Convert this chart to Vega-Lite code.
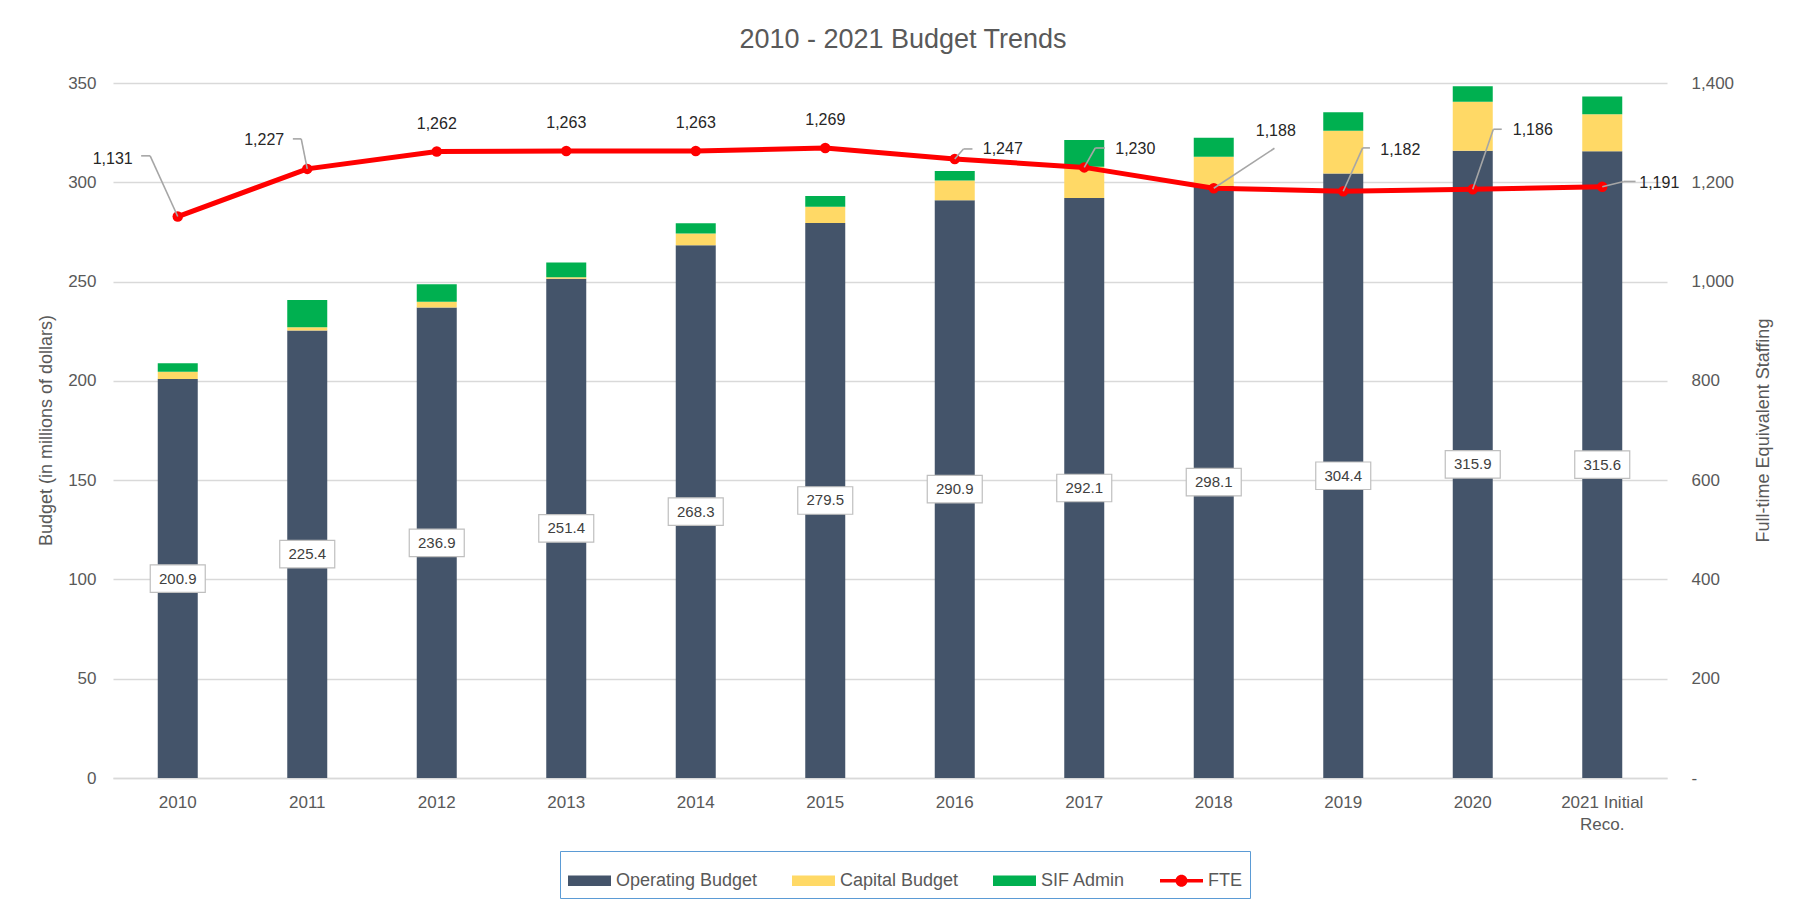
{
  "$schema": "https://vega.github.io/schema/vega-lite/v6.json",
  "width": 1554,
  "height": 695,
  "autosize": "none",
  "padding": {"left": 113, "top": 83, "right": 136, "bottom": 122},
  "background": "white",
  "title": {"text": "2010 - 2021 Budget Trends", "fontSize": 27, "font": "Liberation Sans", "fontWeight": "normal", "color": "#595959", "anchor": "middle", "frame": "group", "dx": 13, "baseline": "alphabetic", "offset": -1},
  "config": {
    "view": {"stroke": null},
    "font": "Liberation Sans",
    "axis": {"labelFont": "Liberation Sans", "titleFont": "Liberation Sans", "labelColor": "#595959", "titleColor": "#595959", "labelFontSize": 17, "titleFontSize": 18, "titleFontWeight": "normal", "gridColor": "#d9d9d9", "gridWidth": 1.5, "ticks": false, "domain": false}
  },
  "datasets": {
    "budget": [
      {"year": "2010", "series": "Operating Budget", "value": 200.9, "order": 1},
      {"year": "2010", "series": "Capital Budget", "value": 3.7, "order": 2},
      {"year": "2010", "series": "SIF Admin", "value": 4.3, "order": 3},
      {"year": "2011", "series": "Operating Budget", "value": 225.4, "order": 1},
      {"year": "2011", "series": "Capital Budget", "value": 1.6, "order": 2},
      {"year": "2011", "series": "SIF Admin", "value": 13.7, "order": 3},
      {"year": "2012", "series": "Operating Budget", "value": 236.9, "order": 1},
      {"year": "2012", "series": "Capital Budget", "value": 2.9, "order": 2},
      {"year": "2012", "series": "SIF Admin", "value": 8.9, "order": 3},
      {"year": "2013", "series": "Operating Budget", "value": 251.4, "order": 1},
      {"year": "2013", "series": "Capital Budget", "value": 0.8, "order": 2},
      {"year": "2013", "series": "SIF Admin", "value": 7.4, "order": 3},
      {"year": "2014", "series": "Operating Budget", "value": 268.3, "order": 1},
      {"year": "2014", "series": "Capital Budget", "value": 5.9, "order": 2},
      {"year": "2014", "series": "SIF Admin", "value": 5.2, "order": 3},
      {"year": "2015", "series": "Operating Budget", "value": 279.5, "order": 1},
      {"year": "2015", "series": "Capital Budget", "value": 8.2, "order": 2},
      {"year": "2015", "series": "SIF Admin", "value": 5.4, "order": 3},
      {"year": "2016", "series": "Operating Budget", "value": 290.9, "order": 1},
      {"year": "2016", "series": "Capital Budget", "value": 10.0, "order": 2},
      {"year": "2016", "series": "SIF Admin", "value": 4.8, "order": 3},
      {"year": "2017", "series": "Operating Budget", "value": 292.1, "order": 1},
      {"year": "2017", "series": "Capital Budget", "value": 15.7, "order": 2},
      {"year": "2017", "series": "SIF Admin", "value": 13.5, "order": 3},
      {"year": "2018", "series": "Operating Budget", "value": 298.1, "order": 1},
      {"year": "2018", "series": "Capital Budget", "value": 14.7, "order": 2},
      {"year": "2018", "series": "SIF Admin", "value": 9.6, "order": 3},
      {"year": "2019", "series": "Operating Budget", "value": 304.4, "order": 1},
      {"year": "2019", "series": "Capital Budget", "value": 21.5, "order": 2},
      {"year": "2019", "series": "SIF Admin", "value": 9.4, "order": 3},
      {"year": "2020", "series": "Operating Budget", "value": 315.9, "order": 1},
      {"year": "2020", "series": "Capital Budget", "value": 24.6, "order": 2},
      {"year": "2020", "series": "SIF Admin", "value": 7.9, "order": 3},
      {"year": "2021 Initial Reco.", "series": "Operating Budget", "value": 315.6, "order": 1},
      {"year": "2021 Initial Reco.", "series": "Capital Budget", "value": 18.7, "order": 2},
      {"year": "2021 Initial Reco.", "series": "SIF Admin", "value": 8.9, "order": 3}
    ],
    "fte": [
      {"year": "2010", "fte": 1131},
      {"year": "2011", "fte": 1227},
      {"year": "2012", "fte": 1262},
      {"year": "2013", "fte": 1263},
      {"year": "2014", "fte": 1263},
      {"year": "2015", "fte": 1269},
      {"year": "2016", "fte": 1247},
      {"year": "2017", "fte": 1230},
      {"year": "2018", "fte": 1188},
      {"year": "2019", "fte": 1182},
      {"year": "2020", "fte": 1186},
      {"year": "2021 Initial Reco.", "fte": 1191}
    ]
  },
  "layer": [
    {
      "data": {"name": "budget"},
      "mark": {"type": "bar", "width": 40},
      "encoding": {
        "x": {"field": "year", "type": "nominal", "sort": null, "scale": {"paddingInner": 0, "paddingOuter": 0},
          "axis": {"title": null, "labelAngle": 0, "labelPadding": 16, "labelLineHeight": 22, "labelExpr": "datum.label == '2021 Initial Reco.' ? ['2021 Initial', 'Reco.'] : datum.label", "domain": true, "domainColor": "#d9d9d9", "domainWidth": 1.5, "grid": false}},
        "y": {"field": "value", "type": "quantitative", "stack": "zero", "scale": {"domain": [0, 350]},
          "axis": {"title": "Budget (in millions of dollars)", "values": [0, 50, 100, 150, 200, 250, 300, 350], "labelPadding": 17, "titleX": -67, "titleY": 347, "titleAngle": 270, "titleAlign": "center", "titleBaseline": "middle", "grid": true}},
        "color": {"field": "series", "type": "nominal",
          "scale": {"domain": ["Operating Budget", "Capital Budget", "SIF Admin", "FTE"], "range": ["#44546a", "#ffd966", "#00b050", "#ff0000"]},
          "legend": {"orient": "none", "legendX": 447, "legendY": 768, "direction": "horizontal", "columns": 4, "title": null, "labelFontSize": 18, "labelColor": "#595959", "labelFont": "Liberation Sans", "symbolType": "M-1,-0.24H1V0.24H-1Z", "symbolSize": 1849, "symbolStrokeWidth": 0, "symbolOpacity": 1, "strokeColor": "#5b9bd5", "padding": 8, "columnPadding": 34, "labelOffset": 5,
            "encode": {"symbols": {"update": {"shape": {"signal": "datum.value === 'FTE' ? 'M-1,-0.08H-0.25V0.08H-1Z M0.25,-0.08H1V0.08H0.25Z M0.28,0 A0.28,0.28 0 1,1 -0.28,0 A0.28,0.28 0 1,1 0.28,0 Z' : 'M-1,-0.24H1V0.24H-1Z'"}}}}}},
        "order": {"field": "order", "type": "quantitative"}
      }
    },
    {
      "data": {"name": "fte"},
      "mark": {"type": "line", "color": "#ff0000", "strokeWidth": 5, "point": {"filled": true, "color": "#ff0000", "size": 110}},
      "encoding": {
        "x": {"field": "year", "type": "nominal", "sort": null},
        "y": {"field": "fte", "type": "quantitative", "scale": {"domain": [0, 1400]},
          "axis": {"orient": "right", "title": "Full-time Equivalent Staffing", "values": [0, 200, 400, 600, 800, 1000, 1200, 1400], "labelExpr": "datum.value == 0 ? '-' : format(datum.value, ',')", "labelPadding": 24, "grid": false, "titleAngle": 270, "titleX": 96, "titleY": 347, "titleAlign": "center", "titleBaseline": "middle"}}
      }
    },
    {
      "data": {"name": "budget"},
      "transform": [{"filter": "datum.series == 'Operating Budget'"}],
      "mark": {"type": "point", "shape": "M-1,-0.5H1V0.5H-1Z", "size": 3025, "filled": true, "fill": "white", "stroke": "#bfbfbf", "strokeWidth": 1.2, "opacity": 1},
      "encoding": {
        "x": {"field": "year", "type": "nominal", "sort": null},
        "y": {"field": "value", "type": "quantitative", "scale": {"domain": [0, 700]}, "axis": null}
      }
    },
    {
      "data": {"name": "budget"},
      "transform": [{"filter": "datum.series == 'Operating Budget'"}],
      "mark": {"type": "text", "fontSize": 15, "color": "#404040", "font": "Liberation Sans"},
      "encoding": {
        "x": {"field": "year", "type": "nominal", "sort": null},
        "y": {"field": "value", "type": "quantitative", "scale": {"domain": [0, 700]}, "axis": null},
        "text": {"field": "value", "type": "quantitative", "format": ".1f"}
      }
    },
    {
      "data": {"name": "fte"},
      "transform": [{"filter": "indexof(['2012','2013','2014','2015'], datum.year) >= 0"}],
      "mark": {"type": "text", "fontSize": 16, "color": "#262626", "dy": -28},
      "encoding": {
        "x": {"field": "year", "type": "nominal", "sort": null},
        "y": {"field": "fte", "type": "quantitative", "scale": {"domain": [0, 1400]}, "axis": null},
        "text": {"field": "fte", "type": "quantitative", "format": ","}
      }
    },
    {
      "data": {"name": "fte"},
      "transform": [{"filter": "datum.year == '2010'"}],
      "mark": {"type": "text", "fontSize": 16, "color": "#262626", "align": "right", "dx": -45, "dy": -58},
      "encoding": {
        "x": {"field": "year", "type": "nominal", "sort": null},
        "y": {"field": "fte", "type": "quantitative", "scale": {"domain": [0, 1400]}, "axis": null},
        "text": {"field": "fte", "type": "quantitative", "format": ","}
      }
    },
    {
      "data": {"name": "fte"},
      "transform": [{"filter": "datum.year == '2011'"}],
      "mark": {"type": "text", "fontSize": 16, "color": "#262626", "align": "right", "dx": -23, "dy": -29},
      "encoding": {
        "x": {"field": "year", "type": "nominal", "sort": null},
        "y": {"field": "fte", "type": "quantitative", "scale": {"domain": [0, 1400]}, "axis": null},
        "text": {"field": "fte", "type": "quantitative", "format": ","}
      }
    },
    {
      "data": {"name": "fte"},
      "transform": [{"filter": "datum.year == '2016'"}],
      "mark": {"type": "text", "fontSize": 16, "color": "#262626", "align": "left", "dx": 28, "dy": -10},
      "encoding": {
        "x": {"field": "year", "type": "nominal", "sort": null},
        "y": {"field": "fte", "type": "quantitative", "scale": {"domain": [0, 1400]}, "axis": null},
        "text": {"field": "fte", "type": "quantitative", "format": ","}
      }
    },
    {
      "data": {"name": "fte"},
      "transform": [{"filter": "datum.year == '2017'"}],
      "mark": {"type": "text", "fontSize": 16, "color": "#262626", "align": "left", "dx": 31, "dy": -18},
      "encoding": {
        "x": {"field": "year", "type": "nominal", "sort": null},
        "y": {"field": "fte", "type": "quantitative", "scale": {"domain": [0, 1400]}, "axis": null},
        "text": {"field": "fte", "type": "quantitative", "format": ","}
      }
    },
    {
      "data": {"name": "fte"},
      "transform": [{"filter": "datum.year == '2018'"}],
      "mark": {"type": "text", "fontSize": 16, "color": "#262626", "align": "left", "dx": 42, "dy": -57},
      "encoding": {
        "x": {"field": "year", "type": "nominal", "sort": null},
        "y": {"field": "fte", "type": "quantitative", "scale": {"domain": [0, 1400]}, "axis": null},
        "text": {"field": "fte", "type": "quantitative", "format": ","}
      }
    },
    {
      "data": {"name": "fte"},
      "transform": [{"filter": "datum.year == '2019'"}],
      "mark": {"type": "text", "fontSize": 16, "color": "#262626", "align": "left", "dx": 37, "dy": -41},
      "encoding": {
        "x": {"field": "year", "type": "nominal", "sort": null},
        "y": {"field": "fte", "type": "quantitative", "scale": {"domain": [0, 1400]}, "axis": null},
        "text": {"field": "fte", "type": "quantitative", "format": ","}
      }
    },
    {
      "data": {"name": "fte"},
      "transform": [{"filter": "datum.year == '2020'"}],
      "mark": {"type": "text", "fontSize": 16, "color": "#262626", "align": "left", "dx": 40, "dy": -59},
      "encoding": {
        "x": {"field": "year", "type": "nominal", "sort": null},
        "y": {"field": "fte", "type": "quantitative", "scale": {"domain": [0, 1400]}, "axis": null},
        "text": {"field": "fte", "type": "quantitative", "format": ","}
      }
    },
    {
      "data": {"name": "fte"},
      "transform": [{"filter": "datum.year == '2021 Initial Reco.'"}],
      "mark": {"type": "text", "fontSize": 16, "color": "#262626", "align": "left", "dx": 37, "dy": -4},
      "encoding": {
        "x": {"field": "year", "type": "nominal", "sort": null},
        "y": {"field": "fte", "type": "quantitative", "scale": {"domain": [0, 1400]}, "axis": null},
        "text": {"field": "fte", "type": "quantitative", "format": ","}
      }
    },
    {
      "data": {"name": "fte"},
      "transform": [{"filter": "datum.year == '2010'"}],
      "mark": {"type": "rule", "color": "#a6a6a6", "strokeWidth": 1.6, "x2Offset": -27.6, "y2Offset": -60.7},
      "encoding": {"x": {"field": "year", "type": "nominal", "sort": null}, "x2": {"field": "year"}, "y": {"field": "fte", "type": "quantitative", "scale": {"domain": [0, 1400]}, "axis": null}, "y2": {"field": "fte"}}
    },
    {
      "data": {"name": "fte"},
      "transform": [{"filter": "datum.year == '2010'"}],
      "mark": {"type": "rule", "color": "#a6a6a6", "strokeWidth": 1.6, "xOffset": -27.6, "yOffset": -60.7, "x2Offset": -36.6, "y2Offset": -60.7},
      "encoding": {"x": {"field": "year", "type": "nominal", "sort": null}, "x2": {"field": "year"}, "y": {"field": "fte", "type": "quantitative", "scale": {"domain": [0, 1400]}, "axis": null}, "y2": {"field": "fte"}}
    },
    {
      "data": {"name": "fte"},
      "transform": [{"filter": "datum.year == '2011'"}],
      "mark": {"type": "rule", "color": "#a6a6a6", "strokeWidth": 1.6, "x2Offset": -6, "y2Offset": -30},
      "encoding": {"x": {"field": "year", "type": "nominal", "sort": null}, "x2": {"field": "year"}, "y": {"field": "fte", "type": "quantitative", "scale": {"domain": [0, 1400]}, "axis": null}, "y2": {"field": "fte"}}
    },
    {
      "data": {"name": "fte"},
      "transform": [{"filter": "datum.year == '2011'"}],
      "mark": {"type": "rule", "color": "#a6a6a6", "strokeWidth": 1.6, "xOffset": -6, "yOffset": -30, "x2Offset": -14.4, "y2Offset": -30},
      "encoding": {"x": {"field": "year", "type": "nominal", "sort": null}, "x2": {"field": "year"}, "y": {"field": "fte", "type": "quantitative", "scale": {"domain": [0, 1400]}, "axis": null}, "y2": {"field": "fte"}}
    },
    {
      "data": {"name": "fte"},
      "transform": [{"filter": "datum.year == '2016'"}],
      "mark": {"type": "rule", "color": "#a6a6a6", "strokeWidth": 1.6, "x2Offset": 8.7, "y2Offset": -10},
      "encoding": {"x": {"field": "year", "type": "nominal", "sort": null}, "x2": {"field": "year"}, "y": {"field": "fte", "type": "quantitative", "scale": {"domain": [0, 1400]}, "axis": null}, "y2": {"field": "fte"}}
    },
    {
      "data": {"name": "fte"},
      "transform": [{"filter": "datum.year == '2016'"}],
      "mark": {"type": "rule", "color": "#a6a6a6", "strokeWidth": 1.6, "xOffset": 8.7, "yOffset": -10, "x2Offset": 17.7, "y2Offset": -10},
      "encoding": {"x": {"field": "year", "type": "nominal", "sort": null}, "x2": {"field": "year"}, "y": {"field": "fte", "type": "quantitative", "scale": {"domain": [0, 1400]}, "axis": null}, "y2": {"field": "fte"}}
    },
    {
      "data": {"name": "fte"},
      "transform": [{"filter": "datum.year == '2017'"}],
      "mark": {"type": "rule", "color": "#a6a6a6", "strokeWidth": 1.6, "x2Offset": 11, "y2Offset": -19.4},
      "encoding": {"x": {"field": "year", "type": "nominal", "sort": null}, "x2": {"field": "year"}, "y": {"field": "fte", "type": "quantitative", "scale": {"domain": [0, 1400]}, "axis": null}, "y2": {"field": "fte"}}
    },
    {
      "data": {"name": "fte"},
      "transform": [{"filter": "datum.year == '2017'"}],
      "mark": {"type": "rule", "color": "#a6a6a6", "strokeWidth": 1.6, "xOffset": 11, "yOffset": -19.4, "x2Offset": 20.7, "y2Offset": -19.4},
      "encoding": {"x": {"field": "year", "type": "nominal", "sort": null}, "x2": {"field": "year"}, "y": {"field": "fte", "type": "quantitative", "scale": {"domain": [0, 1400]}, "axis": null}, "y2": {"field": "fte"}}
    },
    {
      "data": {"name": "fte"},
      "transform": [{"filter": "datum.year == '2018'"}],
      "mark": {"type": "rule", "color": "#a6a6a6", "strokeWidth": 1.6, "x2Offset": 60.7, "y2Offset": -40},
      "encoding": {"x": {"field": "year", "type": "nominal", "sort": null}, "x2": {"field": "year"}, "y": {"field": "fte", "type": "quantitative", "scale": {"domain": [0, 1400]}, "axis": null}, "y2": {"field": "fte"}}
    },
    {
      "data": {"name": "fte"},
      "transform": [{"filter": "datum.year == '2019'"}],
      "mark": {"type": "rule", "color": "#a6a6a6", "strokeWidth": 1.6, "x2Offset": 19.4, "y2Offset": -43.3},
      "encoding": {"x": {"field": "year", "type": "nominal", "sort": null}, "x2": {"field": "year"}, "y": {"field": "fte", "type": "quantitative", "scale": {"domain": [0, 1400]}, "axis": null}, "y2": {"field": "fte"}}
    },
    {
      "data": {"name": "fte"},
      "transform": [{"filter": "datum.year == '2019'"}],
      "mark": {"type": "rule", "color": "#a6a6a6", "strokeWidth": 1.6, "xOffset": 19.4, "yOffset": -43.3, "x2Offset": 26.7, "y2Offset": -43.3},
      "encoding": {"x": {"field": "year", "type": "nominal", "sort": null}, "x2": {"field": "year"}, "y": {"field": "fte", "type": "quantitative", "scale": {"domain": [0, 1400]}, "axis": null}, "y2": {"field": "fte"}}
    },
    {
      "data": {"name": "fte"},
      "transform": [{"filter": "datum.year == '2020'"}],
      "mark": {"type": "rule", "color": "#a6a6a6", "strokeWidth": 1.6, "x2Offset": 20.6, "y2Offset": -60},
      "encoding": {"x": {"field": "year", "type": "nominal", "sort": null}, "x2": {"field": "year"}, "y": {"field": "fte", "type": "quantitative", "scale": {"domain": [0, 1400]}, "axis": null}, "y2": {"field": "fte"}}
    },
    {
      "data": {"name": "fte"},
      "transform": [{"filter": "datum.year == '2020'"}],
      "mark": {"type": "rule", "color": "#a6a6a6", "strokeWidth": 1.6, "xOffset": 20.6, "yOffset": -60, "x2Offset": 29, "y2Offset": -60},
      "encoding": {"x": {"field": "year", "type": "nominal", "sort": null}, "x2": {"field": "year"}, "y": {"field": "fte", "type": "quantitative", "scale": {"domain": [0, 1400]}, "axis": null}, "y2": {"field": "fte"}}
    },
    {
      "data": {"name": "fte"},
      "transform": [{"filter": "datum.year == '2021 Initial Reco.'"}],
      "mark": {"type": "rule", "color": "#a6a6a6", "strokeWidth": 1.6, "x2Offset": 21.6, "y2Offset": -5.3},
      "encoding": {"x": {"field": "year", "type": "nominal", "sort": null}, "x2": {"field": "year"}, "y": {"field": "fte", "type": "quantitative", "scale": {"domain": [0, 1400]}, "axis": null}, "y2": {"field": "fte"}}
    },
    {
      "data": {"name": "fte"},
      "transform": [{"filter": "datum.year == '2021 Initial Reco.'"}],
      "mark": {"type": "rule", "color": "#a6a6a6", "strokeWidth": 1.6, "xOffset": 21.6, "yOffset": -5.3, "x2Offset": 33.3, "y2Offset": -5.3},
      "encoding": {"x": {"field": "year", "type": "nominal", "sort": null}, "x2": {"field": "year"}, "y": {"field": "fte", "type": "quantitative", "scale": {"domain": [0, 1400]}, "axis": null}, "y2": {"field": "fte"}}
    }
  ],
  "resolve": {"scale": {"y": "independent"}}
}
